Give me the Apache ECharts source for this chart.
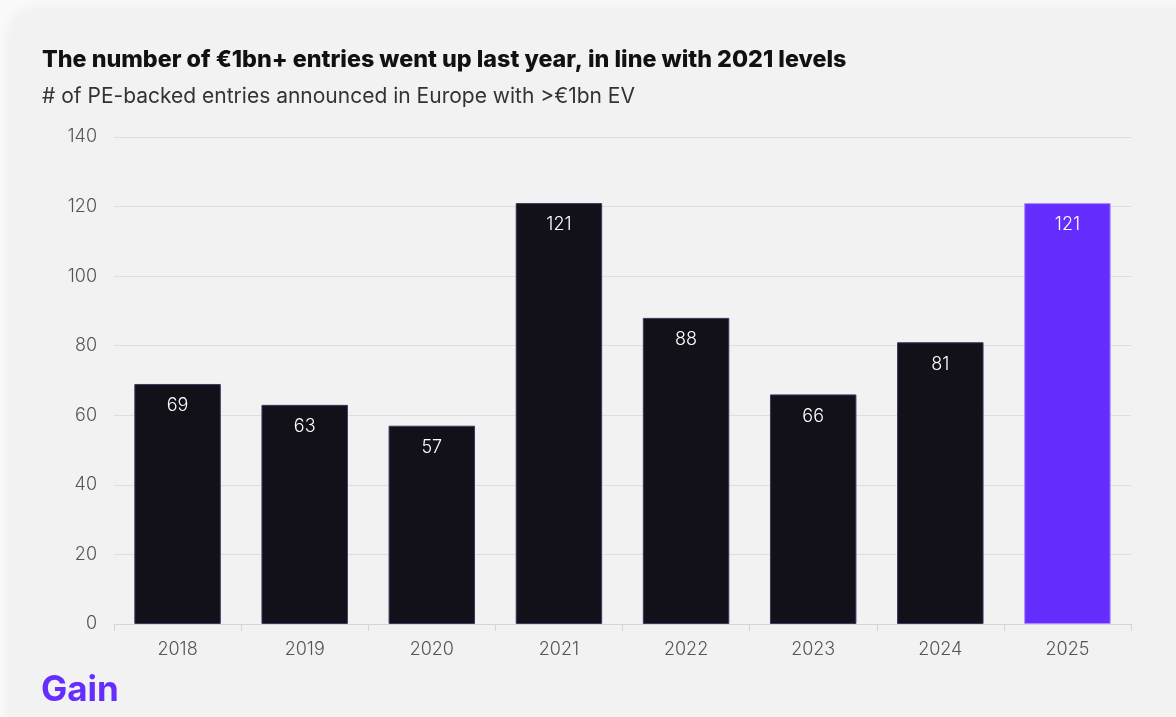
<!DOCTYPE html>
<html>
<head>
<meta charset="utf-8">
<script src="https://cdn.jsdelivr.net/npm/echarts@6/dist/echarts.min.js"></script>
<style>
  html, body { margin: 0; padding: 0; background: #f9f9f9; }
  #chart { width: 1176px; height: 717px; }
</style>
</head>
<body>
<div id="chart"></div>
<script>
// Large PE-backed entries in Europe, by year
const years = ['2018', '2019', '2020', '2021', '2022', '2023', '2024', '2025'];
const entries = [69, 63, 57, 121, 88, 66, 81, 121];
const yTicks = [0, 20, 40, 60, 80, 100, 120, 140];

const DARK = '#121018';
const PURPLE = '#652EFF';
const FONT = 'Inter, "Noto Sans", sans-serif';

const chart = echarts.init(document.getElementById('chart'));

const barData = entries.map((v, i) => {
  const last = i === entries.length - 1;
  return {
    value: v,
    itemStyle: {
      color: last ? PURPLE : DARK,
      borderColor: last ? '#a98bff' : '#3b3760',
      borderWidth: 1
    }
  };
});

chart.setOption({
  animation: false,
  textStyle: { fontFamily: FONT },
  graphic: [
    {
      type: 'rect',
      z: -10,
      shape: { x: 10, y: 10, width: 1190, height: 740, r: 26 },
      style: { fill: '#f2f2f2', shadowBlur: 14, shadowColor: 'rgba(0,0,0,0.06)' }
    },
    {
      type: 'text', left: 42, top: 48,
      style: {
        text: 'The number of €1bn+ entries went up last year, in line with 2021 levels',
        font: '800 23.3px ' + FONT, fill: '#111111'
      }
    },
    {
      type: 'text', left: 42, top: 86,
      style: {
        text: '# of PE-backed entries announced in Europe with >€1bn EV',
        font: '21px ' + FONT, fill: '#333333'
      }
    },
    {
      type: 'text', left: 41, top: 673,
      style: {
        text: 'Gain',
        font: 'bold 35px ' + FONT, fill: PURPLE
      }
    }
  ],
  grid: { left: 114, right: 45, top: 137, bottom: 93 },
  xAxis: {
    type: 'category',
    data: years,
    axisLine: { lineStyle: { color: '#d4d4d4' } },
    axisTick: { show: true, length: 7, lineStyle: { color: '#d4d4d4' } },
    axisLabel: { color: '#555555', fontSize: 18, fontWeight: 300, margin: 17, fontFamily: FONT }
  },
  yAxis: {
    type: 'value',
    min: 0, max: 140, interval: 20,
    axisLine: { show: false },
    axisTick: { show: false },
    axisLabel: {
      color: '#555555', fontSize: 18, fontWeight: 300, margin: 17, fontFamily: FONT,
      formatter: v => (yTicks.includes(v) ? String(v) : '')
    },
    splitLine: { lineStyle: { color: '#dedede', width: 1 } }
  },
  series: [{
    type: 'bar',
    data: barData,
    barWidth: '68%',
    label: {
      show: true,
      position: 'insideTop',
      distance: 13,
      color: '#ffffff',
      fontSize: 18,
      fontWeight: 300,
      fontFamily: FONT
    }
  }]
});
</script>
</body>
</html>
